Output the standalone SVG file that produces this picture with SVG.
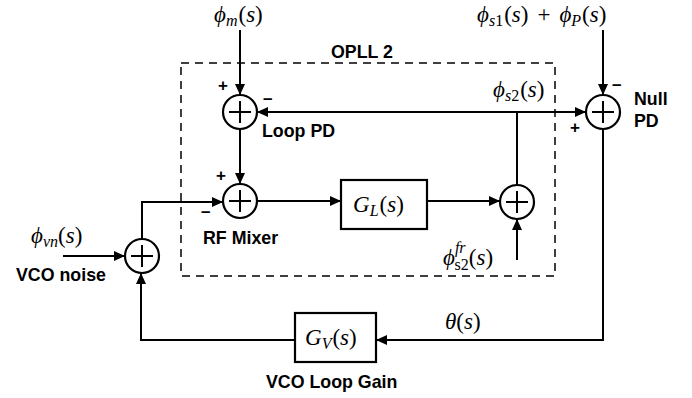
<svg xmlns="http://www.w3.org/2000/svg" width="692" height="398" viewBox="0 0 692 398">
<defs>
<marker id="arr" markerUnits="userSpaceOnUse" markerWidth="12" markerHeight="10" refX="11" refY="5" orient="auto"><path d="M0,0 L11,5 L0,10 Z" fill="#000"/></marker>
<style>
.ln{stroke:#000;stroke-width:2;fill:none}
.sum{stroke:#000;stroke-width:2.2;fill:#fff}
.box{stroke:#000;stroke-width:2.2;fill:#fff}
.lbl{font-family:"Liberation Sans",Arial,sans-serif;font-weight:bold;font-size:17.8px;fill:#000}
.m{font-family:"Liberation Serif","Times New Roman",serif;font-size:23px;fill:#000}
.i{font-style:italic}
.sub{font-size:16px}
.sg{font-family:"Liberation Sans",Arial,sans-serif;font-weight:bold;font-size:17px;fill:#000}
</style>
</defs>
<rect x="181" y="63" width="374" height="213" fill="none" stroke="#000" stroke-width="1.5" stroke-dasharray="8,6"/>
<text class="lbl" x="331" y="58">OPLL 2</text>
<g id="connectors">
<path class="ln" d="M240,30 V95" marker-end="url(#arr)"/>
<path class="ln" d="M603,30 V95" marker-end="url(#arr)"/>
<path class="ln" d="M586,112 H257" marker-end="url(#arr)"/>
<path class="ln" d="M420,112 H586" marker-end="url(#arr)"/>
<path class="ln" d="M517,185 V112"/>
<path class="ln" d="M240,129 V184" marker-end="url(#arr)"/>
<path class="ln" d="M257,201 H341" marker-end="url(#arr)"/>
<path class="ln" d="M427,201 H500" marker-end="url(#arr)"/>
<path class="ln" d="M517,260 V219" marker-end="url(#arr)"/>
<path class="ln" d="M142,239 V202 H223" marker-end="url(#arr)"/>
<path class="ln" d="M63,256 H125" marker-end="url(#arr)"/>
<path class="ln" d="M603,129 V340 H376" marker-end="url(#arr)"/>
<path class="ln" d="M295,340 H141 V273" marker-end="url(#arr)"/>
</g>
<g id="loop-pd">
<circle class="sum" cx="240" cy="112" r="17"/>
<path class="ln" d="M229,112 H251 M240,101 V123"/>
<text class="sg" x="218" y="91">+</text>
<text class="sg" x="263" y="104">–</text>
<text class="lbl" x="262" y="137">Loop PD</text>
</g>
<g id="rf-mixer">
<circle class="sum" cx="240" cy="201" r="17"/>
<path class="ln" d="M229,201 H251 M240,190 V212"/>
<text class="sg" x="216" y="181">+</text>
<text class="sg" x="201" y="217">–</text>
<text class="lbl" x="203" y="244">RF Mixer</text>
</g>
<g id="gl">
<rect class="box" x="341" y="180" width="86" height="49"/>
<text class="m" x="353" y="212"><tspan class="i">G</tspan><tspan class="i sub" dy="4">L</tspan><tspan dy="-4" dx="1">(</tspan><tspan class="i">s</tspan>)</text>
</g>
<g id="sum2">
<circle class="sum" cx="517" cy="202" r="17"/>
<path class="ln" d="M506,202 H528 M517,191 V213"/>
<text class="m" x="443" y="265"><tspan class="i">ϕ</tspan><tspan class="i sub" dy="-12">fr</tspan><tspan class="sub" dx="-11" dy="17">s2</tspan><tspan dy="-5">(</tspan><tspan class="i">s</tspan>)</text>
</g>
<g id="null-pd">
<circle class="sum" cx="603" cy="112" r="17"/>
<path class="ln" d="M592,112 H614 M603,101 V123"/>
<text class="sg" x="612" y="90">–</text>
<text class="sg" x="570" y="133">+</text>
<text class="lbl" x="634" y="105">Null</text>
<text class="lbl" x="634" y="127">PD</text>
</g>
<g id="vco-sum">
<circle class="sum" cx="142" cy="256" r="17"/>
<path class="ln" d="M131,256 H153 M142,245 V267"/>
<text class="m" x="31" y="243"><tspan class="i">ϕ</tspan><tspan class="i sub" dy="4">vn</tspan><tspan dy="-4">(</tspan><tspan class="i">s</tspan>)</text>
<text class="lbl" x="16" y="281">VCO noise</text>
</g>
<g id="gv">
<rect class="box" x="295" y="313" width="81" height="49"/>
<text class="m" x="305" y="345"><tspan class="i">G</tspan><tspan class="i sub" dy="4">V</tspan><tspan dy="-4" dx="1">(</tspan><tspan class="i">s</tspan>)</text>
<text class="lbl" x="266" y="388">VCO Loop Gain</text>
</g>
<g id="labels">
<text class="m" x="214" y="22"><tspan class="i">ϕ</tspan><tspan class="i sub" dy="4">m</tspan><tspan dy="-4" dx="1">(</tspan><tspan class="i">s</tspan>)</text>
<text class="m" x="477" y="22"><tspan class="i">ϕ</tspan><tspan class="i sub" dy="4">s</tspan><tspan class="sub">1</tspan><tspan dy="-4" dx="1">(</tspan><tspan class="i">s</tspan>)<tspan dx="9">+</tspan><tspan class="i" dx="9">ϕ</tspan><tspan class="i sub" dy="4">P</tspan><tspan dy="-4" dx="1">(</tspan><tspan class="i">s</tspan>)</text>
<text class="m" x="493" y="97"><tspan class="i">ϕ</tspan><tspan class="i sub" dy="4">s</tspan><tspan class="sub">2</tspan><tspan dy="-4" dx="1">(</tspan><tspan class="i">s</tspan>)</text>
<text class="m" x="445" y="329"><tspan class="i">θ</tspan>(<tspan class="i">s</tspan>)</text>
</g>
</svg>
